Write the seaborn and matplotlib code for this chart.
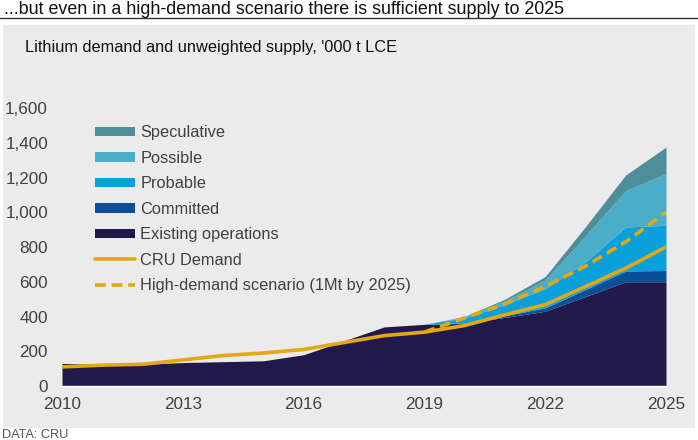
import numpy as np
import pandas as pd
import matplotlib
matplotlib.use("Agg")
import matplotlib.pyplot as plt
import seaborn as sns
from matplotlib.patches import Patch, Rectangle
from matplotlib.lines import Line2D

# data ('000 t LCE)
years = list(range(2010, 2026))
existing = [130, 125, 125, 135, 140, 145, 180, 260, 340, 355, 360, 395, 430, 515, 600, 600]
committed = [0, 0, 0, 0, 0, 0, 0, 0, 0, 0, 3, 10, 20, 40, 62, 65]
probable = [0, 0, 0, 0, 0, 0, 0, 0, 0, 0, 30, 65, 110, 160, 253, 260]
possible = [0, 0, 0, 0, 0, 0, 0, 0, 0, 0, 5, 20, 50, 148, 210, 297]
speculative = [0, 0, 0, 0, 0, 0, 0, 0, 0, 0, 3, 10, 20, 54, 90, 153]
cru_demand = [110, 120, 125, 150, 175, 190, 210, 250, 290, 310, 348, 410, 468, 572, 678, 800]
high_demand = [None] * 9 + [310, 392, 472, 572, 690, 830, 1000]

layer_names = ["Existing operations", "Committed", "Probable", "Possible", "Speculative"]
layer_colors = ["#21194a", "#0b4f98", "#0aa0dc", "#4aaec8", "#4e8e98"]
gold = "#e3a812"
panel = "#ebebeb"

df = pd.DataFrame({"year": years, "demand": cru_demand,
                   "high": pd.array(high_demand, dtype="Float64")})

sns.set_theme(style="white")
plt.rcParams["font.family"] = ["Liberation Sans", "DejaVu Sans"]

fig = plt.figure(figsize=(6.98, 4.4), dpi=100)
fig.patch.set_facecolor("white")
fig.patches.append(Rectangle((3 / 698, 1 - 428 / 440), 692 / 698, 403 / 440,
                             transform=fig.transFigure, facecolor=panel,
                             edgecolor="none", zorder=-5))
fig.add_artist(Line2D([0, 1], [1 - 18 / 440] * 2, transform=fig.transFigure,
                      color="#333333", lw=1))
fig.text(4 / 698, 1 - 14 / 440, "...but even in a high-demand scenario there is sufficient supply to 2025",
         fontsize=12.9, color="#111111", va="baseline")
fig.text(25 / 698, 1 - 52 / 440, "Lithium demand and unweighted supply, '000 t LCE",
         fontsize=11.8, color="#111111", va="baseline")
fig.text(2 / 698, 1 - 438 / 440, "DATA: CRU", fontsize=9.2, color="#555555", va="baseline")

ax = fig.add_axes([62 / 698, 1 - 386 / 440, 604 / 698, 278 / 440])
ax.set_facecolor(panel)
ax.stackplot(years, existing, committed, probable, possible, speculative,
             colors=layer_colors, linewidth=0)
sns.lineplot(data=df, x="year", y="demand", ax=ax, color=gold, lw=2.6)
sns.lineplot(data=df.dropna(), x="year", y="high", ax=ax, color=gold, lw=2.6,
             linestyle=(0, (3, 1.6)))

ax.set_xlim(2010, 2025)
ax.set_ylim(0, 1600)
ax.set_xticks(range(2010, 2026, 3))
ax.set_yticks(range(0, 1601, 200))
ax.set_yticklabels([f"{v:,}" for v in range(0, 1601, 200)])
ax.set_xlabel("")
ax.set_ylabel("")
ax.tick_params(axis="both", labelsize=12.3, colors="#404040", length=0)
ax.tick_params(axis="x", pad=8)
ax.tick_params(axis="y", pad=10)
for s in ["top", "right", "left"]:
    ax.spines[s].set_visible(False)
ax.spines["bottom"].set_color("white")
ax.spines["bottom"].set_linewidth(1)

handles = [Patch(facecolor=c, edgecolor="none") for c in layer_colors[::-1]]
handles += [Line2D([], [], color=gold, lw=2.6),
            Line2D([], [], color=gold, lw=2.6, linestyle=(0, (3, 1.6)))]
labels = layer_names[::-1] + ["CRU Demand", "High-demand scenario (1Mt by 2025)"]
ax.legend(handles, labels, loc="upper left", bbox_to_anchor=(0.031, 0.99),
          frameon=False, fontsize=11.75, handlelength=2.45, handleheight=0.5,
          handletextpad=0.3, labelspacing=0.64, labelcolor="#404040")

fig.savefig("out.png", dpi=100, facecolor="white")
